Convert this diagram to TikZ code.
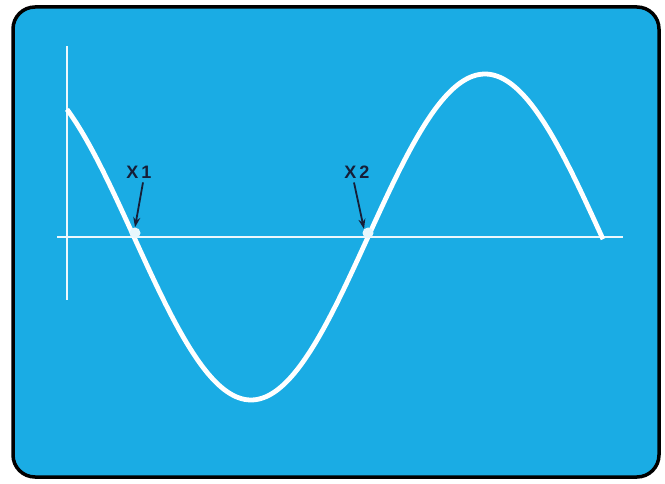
\documentclass[tikz,border=0pt]{standalone}
\usepackage{fontspec}
\setsansfont{Liberation Sans}
\usetikzlibrary{arrows.meta}
\definecolor{scr}{RGB}{26,172,228}
\definecolor{ink}{RGB}{22,30,55}
\tikzset{
  screen/.style={fill=scr,draw=black,line width=3.5pt,rounded corners=22pt},
  trace/.style={white,line width=4.8pt,line join=round},
  axisline/.style={white!92!scr,line width=2.8pt},
  lbl/.style={text=ink,font=\sffamily\bfseries\fontsize{18}{18}\selectfont,inner sep=1pt},
  pointer/.style={ink,line width=1.8pt,-{Stealth[length=10pt,width=7pt]}},
  crossdot/.style={circle,fill=white!90!scr,minimum size=11pt,inner sep=0pt}
}
\begin{document}
\begin{tikzpicture}[x=1pt,y=-1pt]
\useasboundingbox (0,0) rectangle (665,484);
\fill[white] (0,0) rectangle (665,484);
\draw[screen] (13,7) rectangle (659,477);
% axes
\draw[axisline] (67,46) -- (67,300);
\draw[axisline] (57,237) -- (623,237);
% sine trace
\draw[trace] plot[domain=67:603,samples=120,smooth] (\x,{237+163*sin(((\x-134)/234)*180)});
% crossings
\node[crossdot] (c1) at (135,233) {};
\node[crossdot] (c2) at (368,233) {};
% labels
\node[lbl] (x1) at (139,172) {X\,1};
\node[lbl] (x2) at (357,172) {X\,2};
\draw[pointer] (x1.south) ++(4,3) coordinate (s1) -- (c1.north);
\draw[pointer] (x2.south) ++(-3,3) coordinate (s2) -- (c2.north west);
\end{tikzpicture}
\end{document}
